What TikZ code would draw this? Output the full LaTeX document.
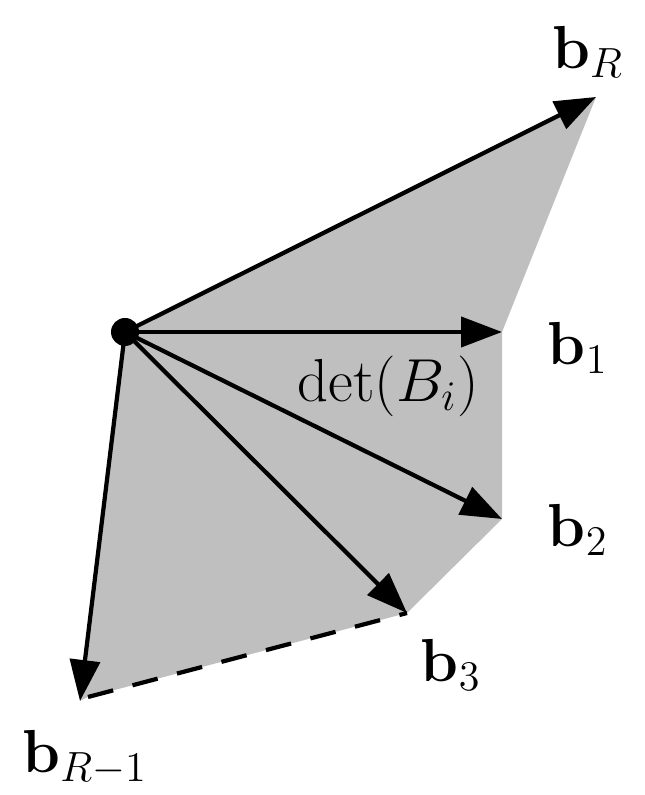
\documentclass[tikz,border=0pt]{standalone}
\usepackage{amsmath,amssymb}
\usepackage{tikz}
\usetikzlibrary{arrows.meta}
\tikzset{
  >={Triangle[length=4.1mm,width=3mm]},
  vec/.style={->,line width=1.2pt},
  cell/.style={fill=black!25,draw=none},
  gap/.style={dashed,line width=1.2pt,dash pattern=on 2.6mm off 2mm},
  origdot/.style={circle,fill=black,inner sep=0pt,minimum size=2.8mm},
  vlab/.style={font=\fontsize{18}{21}\selectfont,inner sep=1pt},
}

\begin{document}
\begin{tikzpicture}
  \useasboundingbox (0,0) rectangle (6.45,7.95);
  % corners of the cell
  \coordinate (o) at (1.25,4.63);
  \coordinate (bR) at (5.96,6.98);
  \coordinate (b1) at (5.02,4.63);
  \coordinate (b2) at (5.02,2.76);
  \coordinate (b3) at (4.07,1.82);
  \coordinate (bRm) at (0.80,0.94);
  \coordinate (cRm) at (0.88,0.98);
  \fill[cell] (o)--(bR)--(b1)--(b2)--(b3)--(cRm)--(bRm)--cycle;
  \draw[gap] (cRm)--(b3);
  \draw[vec] (o)--(bR);
  \draw[vec] (o)--(b1);
  \draw[vec] (o)--(b2);
  \draw[vec] (o)--(b3);
  \draw[vec] (o)--(bRm);
  \node[origdot] (dot) at (o) {};
  % labels
  \node[vlab] (lR) at (5.88,7.43) {$\mathbf{b}_R$};
  \node[vlab] (l1) at (5.78,4.47) {$\mathbf{b}_1$};
  \node[vlab] (l2) at (5.78,2.65) {$\mathbf{b}_2$};
  \node[vlab] (l3) at (4.51,1.30) {$\mathbf{b}_3$};
  \node[vlab] (lRm) at (0.85,0.37) {$\mathbf{b}_{R-1}$};
  \node[vlab] (det) at (3.88,4.09) {$\det(B_i)$};
\end{tikzpicture}
\end{document}
